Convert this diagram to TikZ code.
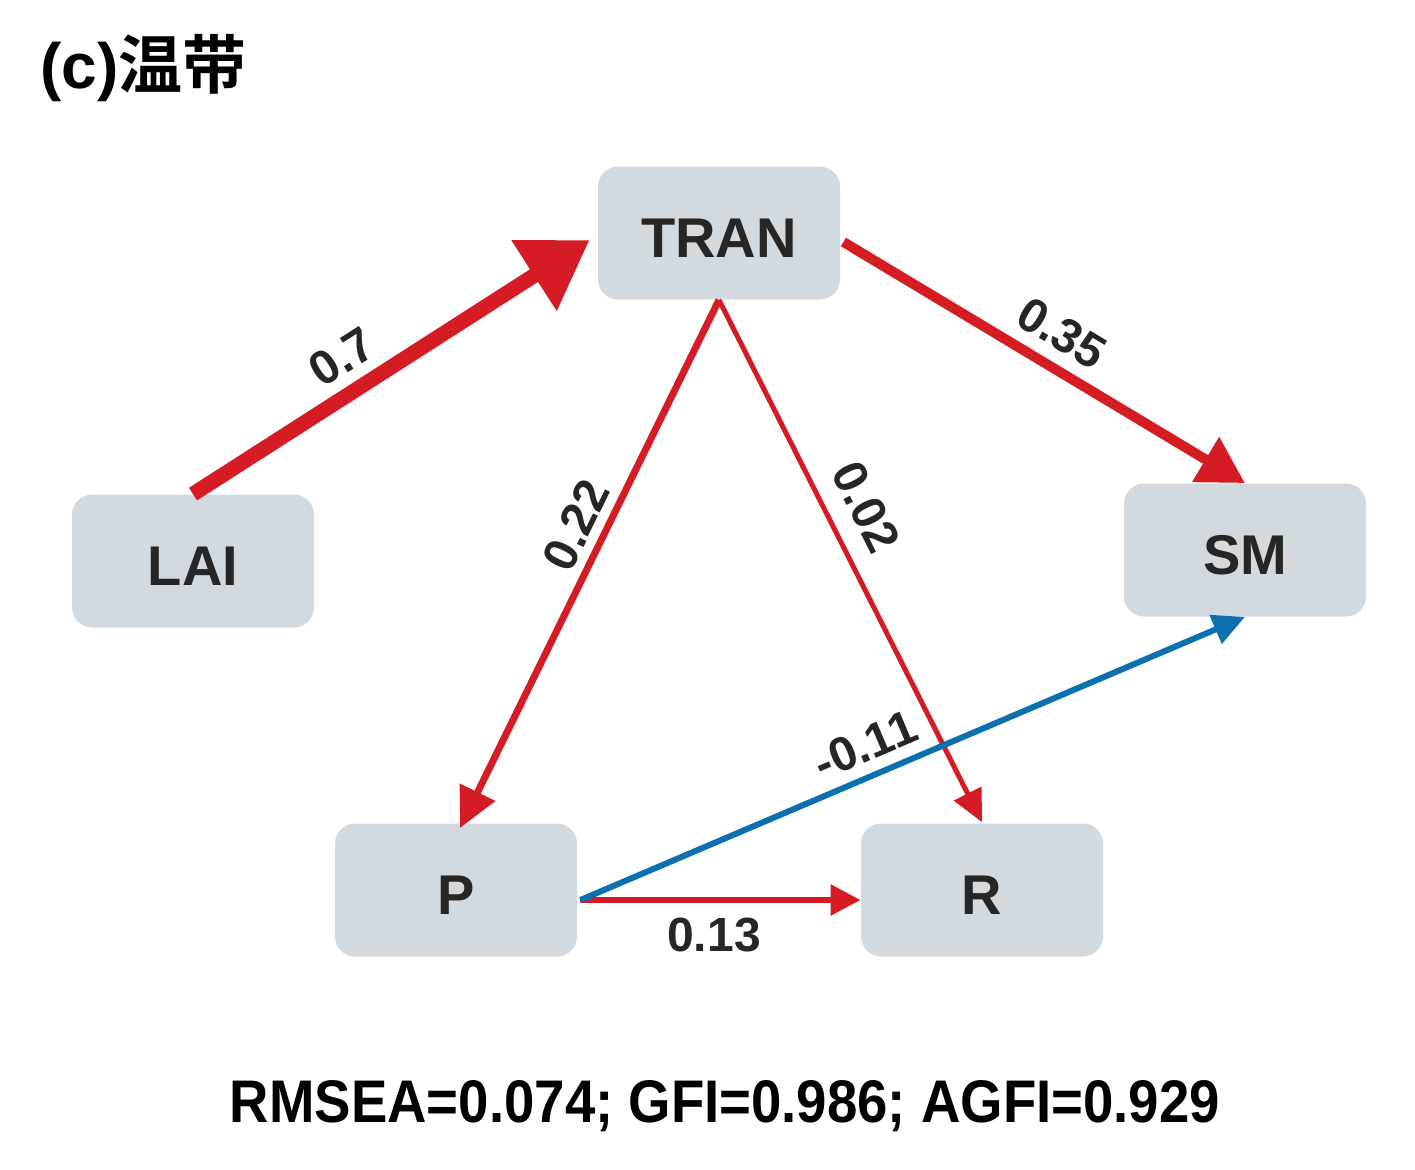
\documentclass[tikz,border=0pt]{standalone}
\usepackage{fontspec}
\setmainfont{Liberation Sans}
\setsansfont{Liberation Sans}
\newfontfamily\cjk{Noto Sans CJK SC}[BoldFont={* Bold}]
\usetikzlibrary{arrows.meta}
\definecolor{boxfill}{HTML}{D3DADF}
\definecolor{arred}{HTML}{D51C24}
\definecolor{arblue}{HTML}{0B6FB0}
\definecolor{txt}{HTML}{262626}
\begin{document}
\begin{tikzpicture}[x=0.5pt,y=-0.5pt,
  var/.style={draw=none,fill=boxfill,rounded corners=10pt,minimum width=121pt,minimum height=66.5pt,
    font=\fontsize{28}{30}\selectfont\bfseries,text=txt,inner sep=0pt,text height=24pt,text depth=0pt},
  lab/.style={font=\fontsize{24}{26}\selectfont\bfseries,text=txt,inner sep=0pt},
  pathred/.style={draw=arred,fill=arred},
  pathblue/.style={draw=arblue,fill=arblue}]
\useasboundingbox (0,0) rectangle (1415,1169);
\node[anchor=west,inner sep=0pt,font=\fontsize{32}{34}\selectfont\bfseries] (title) at (40,68) {(c)\cjk 温带};
\node[var] (TRAN) at (719,233) {TRAN};
\node[var] (LAI) at (193,561) {LAI};
\node[var] (SM) at (1245,550) {SM};
\node[var] (P) at (456,890) {P};
\node[var] (R) at (982,890) {R};
% connectors
\draw[pathred,line width=7.5pt,-{Triangle[length=33pt,width=40pt]}] (LAI.north) -- ([xshift=-4pt,yshift=-3.5pt]TRAN.west);
\draw[pathred,line width=5pt,-{Triangle[length=23pt,width=25pt]}] ([xshift=1.5pt,yshift=-4.5pt]TRAN.east) -- (SM.north);
\draw[pathred,line width=3.5pt,-{Triangle[length=20pt,width=19pt]}] (TRAN.south) -- ([xshift=2pt,yshift=-2.5pt]P.north);
\draw[pathred,line width=2.5pt,-{Triangle[length=16pt,width=15pt]}] (TRAN.south) -- ([yshift=0.5pt]R.north);
\draw[pathred,line width=3pt,-{Triangle[length=15pt,width=15pt]}] ([xshift=1.5pt,yshift=-5pt]P.east) -- ([yshift=-5pt]R.west);
\draw[pathblue,line width=3pt,-{Triangle[length=16pt,width=15pt]}] ([xshift=1.5pt,yshift=-5pt]P.east) -- (SM.south);
% labels
\node[lab,rotate=32.7] (l07) at (342,357) {0.7};
\node[lab,rotate=-31] (l035) at (1062,333) {0.35};
\node[lab,rotate=63.9] (l022) at (576,525) {0.22};
\node[lab,rotate=-63.3] (l002) at (866,507) {0.02};
\node[lab,rotate=23] (l011) at (865,745) {-0.11};
\node[lab] (l013) at (714,935) {0.13};
\node[inner sep=0pt,text=black] (fit) at (725,1106) {\resizebox{495pt}{21pt}{\bfseries RMSEA=0.074; GFI=0.986; AGFI=0.929}};
\end{tikzpicture}
\end{document}
